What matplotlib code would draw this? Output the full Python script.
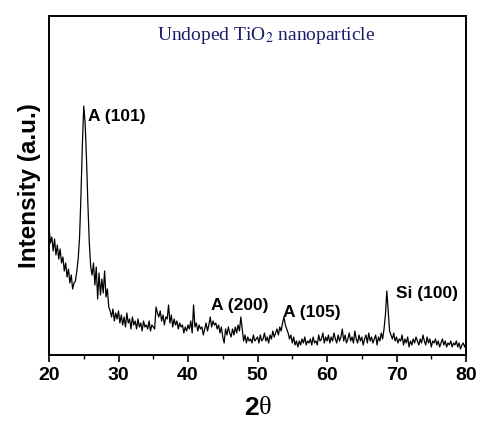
import numpy as np
import matplotlib
matplotlib.use("Agg")
import matplotlib.pyplot as plt
from matplotlib.ticker import MultipleLocator

# XRD pattern, 2theta from 20 to 80 in 0.2 deg steps
intensity = [
    128, 112, 118, 104, 116, 100, 110, 96, 106, 92,   # 20.0 - 21.8
    98, 84, 92, 78, 86, 72, 80, 66, 72, 74,            # 22.0 - 23.8
    84, 96, 118, 160, 210, 249, 232, 195, 150, 112,    # 24.0 - 25.8
    88, 80, 92, 70, 88, 56, 82, 60, 76, 62,            # 26.0 - 27.8
    84, 58, 66, 48, 44, 38, 46, 34, 42, 36,            # 28.0 - 29.8
    44, 32, 40, 30, 38, 28, 42, 32, 36, 26,            # 30.0 - 31.8
    38, 30, 34, 26, 36, 28, 32, 24, 34, 28,            # 32.0 - 33.8
    30, 26, 34, 24, 30, 28, 26, 48, 42, 38,            # 34.0 - 35.8
    44, 34, 40, 30, 38, 36, 50, 32, 40, 28,            # 36.0 - 37.8
    36, 30, 34, 26, 32, 28, 30, 22, 28, 24,            # 38.0 - 39.8
    30, 26, 34, 22, 50, 28, 32, 24, 30, 26,            # 40.0 - 41.8
    28, 20, 26, 32, 24, 30, 38, 28, 34, 30,            # 42.0 - 43.8
    32, 26, 30, 22, 28, 18, 12, 26, 20, 28,            # 44.0 - 45.8
    22, 18, 26, 20, 28, 22, 30, 24, 38, 26,            # 46.0 - 47.8
    14, 20, 12, 18, 14, 16, 12, 20, 14, 16,            # 48.0 - 49.8
    18, 12, 20, 14, 16, 22, 14, 18, 12, 20,            # 50.0 - 51.8
    16, 24, 18, 22, 26, 20, 28, 24, 32, 38,            # 52.0 - 53.8
    30, 26, 22, 16, 20, 12, 18, 10, 14, 8,             # 54.0 - 55.8
    14, 10, 16, 12, 18, 10, 14, 12, 16, 10,            # 56.0 - 57.8
    18, 12, 14, 10, 20, 14, 16, 22, 12, 18,            # 58.0 - 59.8
    14, 20, 12, 18, 14, 22, 16, 12, 20, 14,            # 60.0 - 61.8
    18, 26, 14, 20, 12, 16, 22, 14, 18, 12,            # 62.0 - 63.8
    24, 16, 12, 20, 14, 18, 10, 16, 20, 12,            # 64.0 - 65.8
    22, 14, 18, 12, 16, 20, 10, 18, 14, 22,            # 66.0 - 67.8
    16, 26, 40, 64, 44, 24, 20, 16, 22, 14,            # 68.0 - 69.8
    18, 12, 16, 14, 20, 10, 16, 12, 18, 8,             # 70.0 - 71.8
    14, 10, 16, 12, 18, 14, 10, 16, 12, 20,            # 72.0 - 73.8
    14, 10, 18, 12, 16, 8, 14, 12, 16, 10,             # 74.0 - 75.8
    14, 8, 12, 16, 10, 14, 8, 12, 10, 14,              # 76.0 - 77.8
    8, 12, 10, 14, 8, 12, 6, 10, 12, 8,                # 78.0 - 79.8
    12,                                                # 80.0
]
two_theta = np.linspace(20, 80, len(intensity))

peak_labels = ["A (101)", "A (200)", "A (105)", "Si (100)"]
label_x = [25.6, 43.3, 53.7, 69.9]
label_y = [239, 49, 42, 61]

fig = plt.figure(figsize=(4.78, 4.23), dpi=100)
ax = fig.add_axes([0.1025, 0.1608, 0.8725, 0.8012])

ax.plot(two_theta, intensity, color="black", lw=0.9)

ax.set_xlim(20, 80)
ax.set_ylim(0, 339)
ax.set_yticks([])
ax.xaxis.set_major_locator(MultipleLocator(10))
ax.xaxis.set_minor_locator(MultipleLocator(5))
ax.tick_params(axis="x", which="major", direction="out", length=5, width=1.2, pad=4)
ax.tick_params(axis="x", which="minor", direction="out", length=3, width=1)
for lab in ax.get_xticklabels():
    lab.set_fontweight("bold")
    lab.set_fontsize(14)
    lab.set_family("Liberation Sans")
for s in ax.spines.values():
    s.set_linewidth(1.4)

for txt, x, y in zip(peak_labels, label_x, label_y):
    ax.text(x, y, txt, fontsize=12.5, fontweight="bold", family="Liberation Sans",
            ha="left", va="center")

ax.text(51.2, 320, r"Undoped TiO$_2$ nanoparticle", fontsize=14, color="#1c1c6b",
        family="Liberation Serif", ha="center", va="center",
        math_fontfamily="stix")

ax.set_ylabel("Intensity (a.u.)", fontsize=17.5, fontweight="bold",
              family="Liberation Sans", labelpad=6)

# x label "2θ": bold sans "2" followed by a serif theta
fig.text(0.541, 0.036, "2", fontsize=19, fontweight="bold", family="Liberation Sans",
         ha="right", va="center")
fig.text(0.541, 0.036, "θ", fontsize=19, family="Liberation Serif",
         ha="left", va="center")

fig.savefig("out.png", dpi=100)
